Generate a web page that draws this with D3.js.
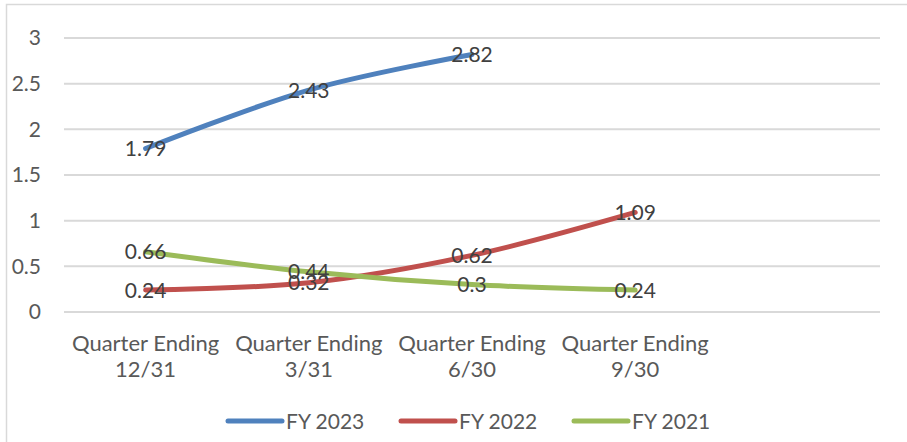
<!DOCTYPE html>
<html>
<head>
<meta charset="UTF-8">
<title>Quarterly values</title>
<script src="https://cdn.jsdelivr.net/npm/d3@7"></script>
<style>
  body { margin: 0; background: #fff; }
  svg text { font-family: Lato, "Open Sans", sans-serif; }
</style>
</head>
<body>
<svg id="chart" width="907" height="442"></svg>
<script>
// categories (last slot is empty, as in the original)
const quarters = ["Quarter Ending|12/31", "Quarter Ending|3/31", "Quarter Ending|6/30", "Quarter Ending|9/30", ""];
const yTicks = [0, 0.5, 1, 1.5, 2, 2.5, 3];

const fy2023 = [1.79, 2.43, 2.82];
const fy2022 = [0.24, 0.32, 0.62, 1.09];
const fy2021 = [0.66, 0.44, 0.3, 0.24];

const seriesNames = ["FY 2023", "FY 2022", "FY 2021"];
const seriesColors = ["#4f81bd", "#c0504d", "#9bbb59"];

const series = [fy2023, fy2022, fy2021].map((vals, i) => ({
  name: seriesNames[i],
  color: seriesColors[i],
  values: vals
}));

const svg = d3.select("#chart");

// outer frame, only left and top edges show in the picture
svg.append("rect")
  .attr("x", 6.5).attr("y", 4.5)
  .attr("width", 1200).attr("height", 1200)
  .attr("fill", "none")
  .attr("stroke", "#d9d9d9")
  .attr("stroke-width", 1.5);

const x = d3.scaleBand()
  .domain(quarters)
  .range([64, 880]);

const y = d3.scaleLinear()
  .domain([0, 3])
  .range([312, 38]);

// gridlines
svg.append("g")
  .selectAll("line")
  .data(yTicks)
  .join("line")
  .attr("x1", 64).attr("x2", 880)
  .attr("y1", d => y(d)).attr("y2", d => y(d))
  .attr("stroke", "#d9d9d9")
  .attr("stroke-width", 2);

// y tick labels
svg.append("g")
  .selectAll("text")
  .data(yTicks)
  .join("text")
  .attr("x", 41)
  .attr("y", d => y(d))
  .attr("dy", "0.35em")
  .attr("text-anchor", "end")
  .attr("fill", "#595959")
  .style("font-size", "21px")
  .text(d => d);

// x category labels, two lines each
const xl = svg.append("g")
  .selectAll("text")
  .data(quarters.filter(q => q))
  .join("text")
  .attr("text-anchor", "middle")
  .attr("fill", "#595959")
  .style("font-size", "22px");
xl.append("tspan")
  .attr("x", d => x(d) + x.bandwidth() / 2)
  .attr("y", 351)
  .text(d => d.split("|")[0]);
xl.append("tspan")
  .attr("x", d => x(d) + x.bandwidth() / 2)
  .attr("y", 377)
  .text(d => d.split("|")[1]);

const cx = i => x(quarters[i]) + x.bandwidth() / 2;

const line = d3.line()
  .x((d, i) => cx(i))
  .y(d => y(d))
  .curve(d3.curveCatmullRom.alpha(0));

svg.append("g")
  .selectAll("path")
  .data(series)
  .join("path")
  .attr("d", d => line(d.values))
  .attr("fill", "none")
  .attr("stroke", d => d.color)
  .attr("stroke-width", 5)
  .attr("stroke-linecap", "round");

// data labels centred on points
series.forEach(s => {
  svg.append("g")
    .selectAll("text")
    .data(s.values)
    .join("text")
    .attr("x", (d, i) => cx(i))
    .attr("y", d => y(d))
    .attr("dy", "0.36em")
    .attr("text-anchor", "middle")
    .attr("fill", "#404040")
    .style("font-size", "21px")
    .text(d => d);
});

// legend
const legend = svg.append("g")
  .selectAll("g")
  .data(series)
  .join("g")
  .attr("transform", (d, i) => `translate(${228 + i * 173},421)`);
legend.append("line")
  .attr("x1", 0).attr("x2", 54)
  .attr("stroke", d => d.color)
  .attr("stroke-width", 5)
  .attr("stroke-linecap", "round");
legend.append("text")
  .attr("x", 58)
  .attr("dy", "0.36em")
  .attr("fill", "#595959")
  .style("font-size", "21px")
  .text(d => d.name);
</script>
</body>
</html>
